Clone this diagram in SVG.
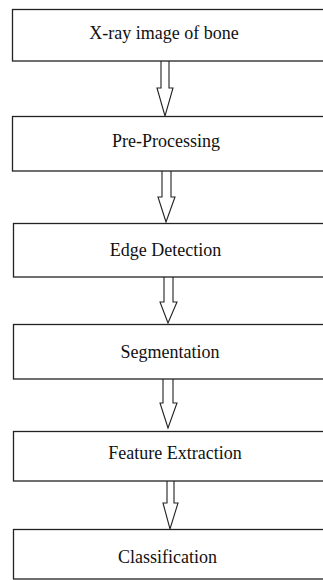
<svg xmlns="http://www.w3.org/2000/svg" width="323" height="580" viewBox="0 0 323 580">
<style>
.box{fill:#fff;stroke:#222;stroke-width:1.3}
.lbl{font-family:"Liberation Serif","Times New Roman",serif;font-size:18px;fill:#111;text-anchor:middle}
.arr{fill:#fff;stroke:#222;stroke-width:1.1;stroke-linejoin:miter}
</style>
<rect width="323" height="580" fill="#fff"/>
<g id="connectors">
<path class="arr" d="M161,61 V88 H157 L165,116 L173,88 H169 V61"/>
<path class="arr" d="M162,171 V197 H158 L166,222 L175,197 H171 V171"/>
<path class="arr" d="M164,277 V302 H160 L168,323 L177,302 H173 V277"/>
<path class="arr" d="M163,379 V403 H160 L168,428 L177,403 H173 V379"/>
<path class="arr" d="M167,481 V503 H163 L170,529 L178,503 H174 V481"/>
</g>
<g id="n1"><rect class="box" x="12.5" y="9.5" width="330" height="51.5"/><text class="lbl" x="164" y="38.5">X-ray image of bone</text></g>
<g id="n2"><rect class="box" x="12.5" y="116.5" width="330" height="54.5"/><text class="lbl" x="166" y="147">Pre-Processing</text></g>
<g id="n3"><rect class="box" x="13.5" y="223.5" width="330" height="53.5"/><text class="lbl" x="165.5" y="255.5">Edge Detection</text></g>
<g id="n4"><rect class="box" x="13.5" y="324.5" width="330" height="54.5"/><text class="lbl" x="170" y="357.5">Segmentation</text></g>
<g id="n5"><rect class="box" x="13.5" y="431.5" width="330" height="49.5"/><text class="lbl" x="175" y="458.5">Feature Extraction</text></g>
<g id="n6"><rect class="box" x="13.5" y="529.5" width="330" height="49.5"/><text class="lbl" x="167.5" y="562.5">Classification</text></g>
</svg>
